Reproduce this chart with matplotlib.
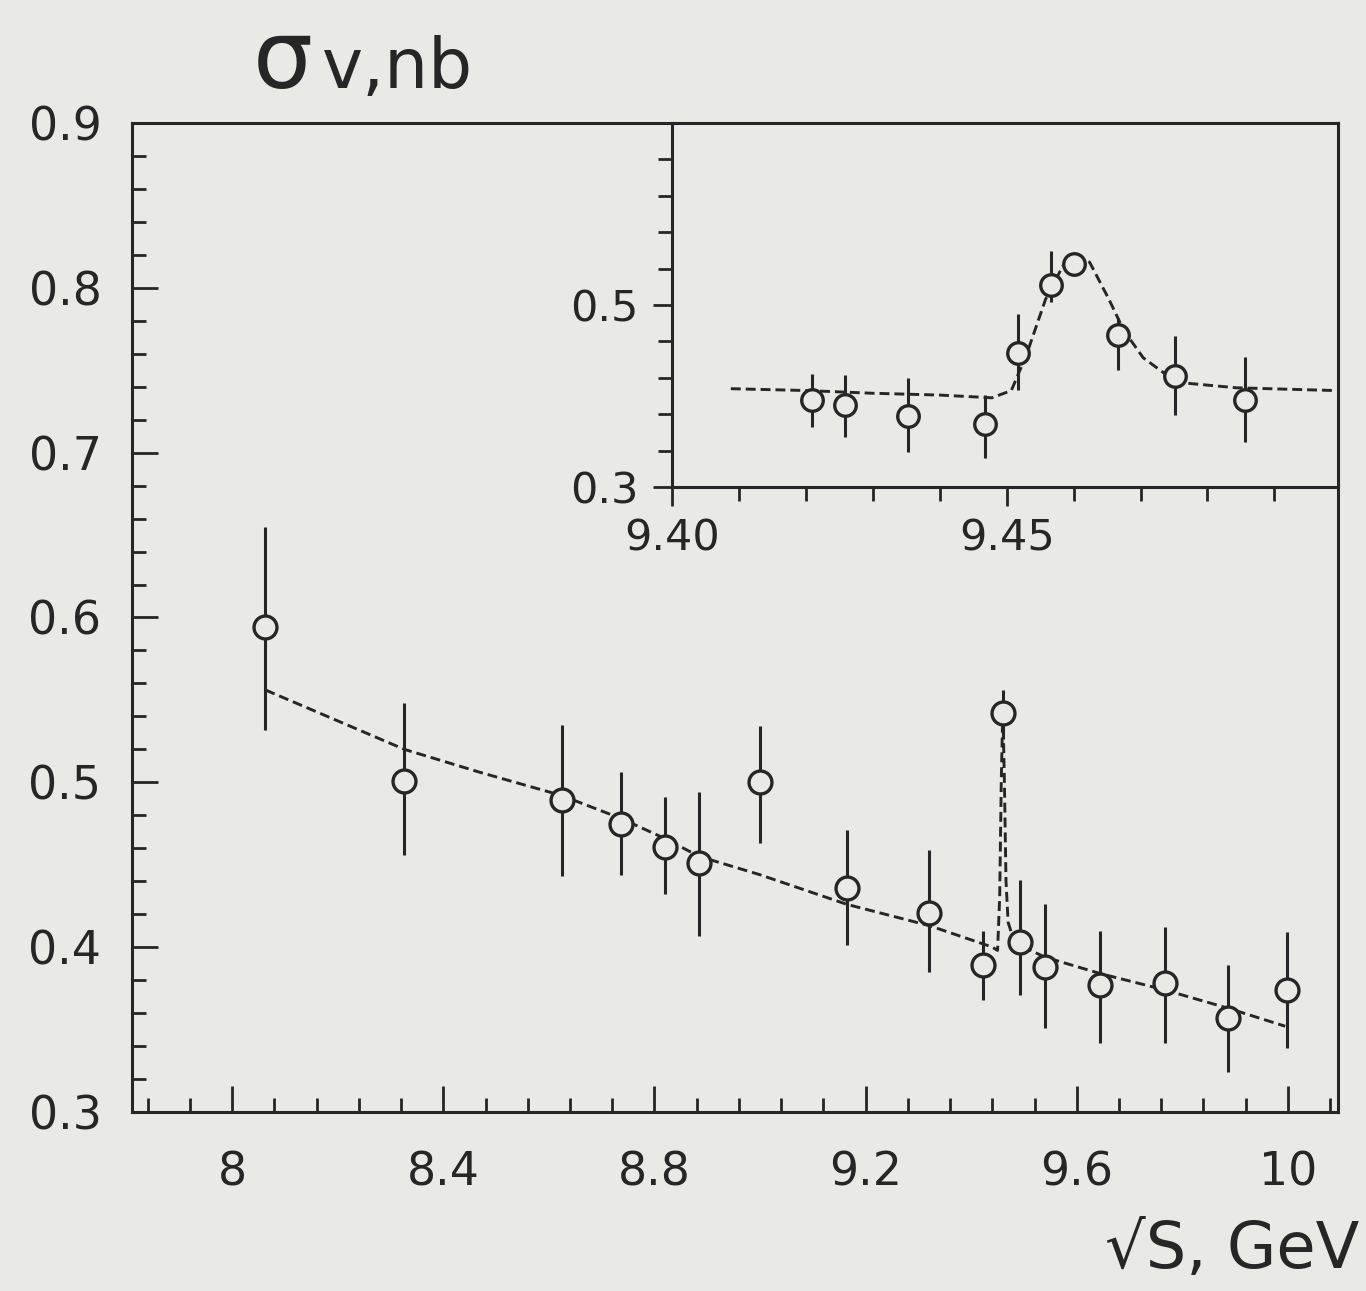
import numpy as np
import matplotlib.pyplot as plt

# main panel: sqrt(s), GeV  vs  sigma_v, nb
x_main = [8.063, 8.326, 8.624, 8.737, 8.819, 8.885, 8.999, 9.164, 9.321,
          9.422, 9.460, 9.492, 9.539, 9.644, 9.767, 9.886, 9.998]
y_main = [0.594, 0.501, 0.489, 0.475, 0.461, 0.451, 0.500, 0.436, 0.421,
          0.389, 0.542, 0.403, 0.388, 0.377, 0.378, 0.357, 0.374]
y_main_hi = [0.655, 0.548, 0.535, 0.506, 0.491, 0.494, 0.534, 0.471, 0.459,
             0.410, 0.556, 0.441, 0.426, 0.410, 0.412, 0.389, 0.409]
y_main_lo = [0.532, 0.456, 0.443, 0.444, 0.432, 0.407, 0.463, 0.401, 0.385,
             0.368, 0.526, 0.371, 0.351, 0.342, 0.342, 0.324, 0.339]

# fit curve
fit_x = [8.063, 8.326, 8.470, 8.624, 8.737, 8.819, 8.885, 8.999, 9.164, 9.321, 9.422,
         9.440, 9.450, 9.454, 9.457, 9.460, 9.463, 9.466, 9.470, 9.480, 9.500,
         9.539, 9.644, 9.767, 9.886, 9.995]
fit_y = [0.556, 0.520, 0.506, 0.492, 0.478, 0.466, 0.455, 0.444, 0.426, 0.413, 0.402,
         0.400, 0.398, 0.430, 0.500, 0.545, 0.500, 0.440, 0.415, 0.405, 0.400,
         0.394, 0.384, 0.374, 0.363, 0.352]

# inset: resonance region
x_ins = [9.4209, 9.4259, 9.4353, 9.4467, 9.4517, 9.4567, 9.4601, 9.4666, 9.4752, 9.4856]
y_ins = [0.396, 0.390, 0.378, 0.369, 0.447, 0.522, 0.545, 0.467, 0.422, 0.396]
y_ins_hi = [0.424, 0.423, 0.420, 0.401, 0.490, 0.559, 0.555, 0.486, 0.466, 0.443]
y_ins_lo = [0.366, 0.355, 0.338, 0.332, 0.407, 0.503, 0.536, 0.429, 0.379, 0.349]

ins_fit_x = [9.4088, 9.4200, 9.4300, 9.4400, 9.4478, 9.4507, 9.4530, 9.4558, 9.4584,
             9.4606, 9.4624, 9.4653, 9.4675, 9.4704, 9.4741, 9.4770, 9.4843, 9.4990]
ins_fit_y = [0.408, 0.406, 0.403, 0.401, 0.398, 0.406, 0.446, 0.506, 0.543,
             0.553, 0.547, 0.506, 0.472, 0.442, 0.422, 0.414, 0.409, 0.406]

paper = '#e9e9e6'
ink = '#262626'

plt.rcParams['font.family'] = 'DejaVu Sans'
fig = plt.figure(figsize=(13.66, 12.91), dpi=100, facecolor=paper)

ax = fig.add_axes([0.0966, 0.1387, 0.8829, 0.7660], facecolor=paper)
ax.set_xlim(7.81, 10.095)
ax.set_ylim(0.3, 0.9)

for s in ax.spines.values():
    s.set_linewidth(2.2)
    s.set_color(ink)

ax.set_xticks([8.0, 8.4, 8.8, 9.2, 9.6, 10.0])
ax.set_xticklabels(['8', '8.4', '8.8', '9.2', '9.6', '10'])
ax.set_xticks(np.arange(7.84, 10.09, 0.08), minor=True)
ax.set_yticks([0.3, 0.4, 0.5, 0.6, 0.7, 0.8, 0.9])
ax.set_yticks(np.arange(0.30, 0.901, 0.02), minor=True)
ax.tick_params(which='both', direction='in', color=ink, width=2.0,
               labelsize=33, labelcolor=ink, top=False, right=False)
ax.tick_params(which='major', length=19)
ax.tick_params(which='minor', length=10)
ax.tick_params(axis='x', pad=28)
ax.tick_params(axis='y', pad=22)

dash = (0, (3.4, 1.7))
ax.plot(fit_x, fit_y, color=ink, lw=2.1, linestyle=dash, zorder=2)
ax.vlines(x_main, y_main_lo, y_main_hi, color=ink, lw=2.2, zorder=3)
ax.plot(x_main, y_main, 'o', ms=16.5, mfc=paper, mec=ink, mew=2.4, zorder=4)

# inset
ai = fig.add_axes([0.4919, 0.6228, 0.4876, 0.2819], facecolor=paper)
ai.set_xlim(9.40, 9.4995)
ai.set_ylim(0.3, 0.70)
for s in ai.spines.values():
    s.set_linewidth(2.2)
    s.set_color(ink)
ai.set_xticks([9.40, 9.45])
ai.set_xticklabels(['9.40', '9.45'])
ai.set_xticks(np.arange(9.41, 9.50, 0.01), minor=True)
ai.set_yticks([0.3, 0.5])
ai.set_yticklabels(['0.3', '0.5'])
ai.set_yticks(np.arange(0.34, 0.70, 0.04), minor=True)
ai.tick_params(which='both', direction='out', color=ink, width=2.0,
               labelsize=31, labelcolor=ink, top=False, right=False)
ai.tick_params(which='major', length=14)
ai.tick_params(which='minor', length=10)
ai.tick_params(axis='y', pad=10)
ai.tick_params(axis='x', pad=8)

ai.plot(ins_fit_x, ins_fit_y, color=ink, lw=2.1, linestyle=dash, zorder=2)
ai.vlines(x_ins, y_ins_lo, y_ins_hi, color=ink, lw=2.2, zorder=3)
ai.plot(x_ins, y_ins, 'o', ms=15.5, mfc=paper, mec=ink, mew=2.4, zorder=4)

fig.text(0.185, 0.932, 'σ', fontsize=68, color=ink, ha='left', va='baseline')
fig.text(0.236, 0.932, 'v,nb', fontsize=50, color=ink, ha='left', va='baseline')
fig.text(0.995, 0.008, '√S, GeV', fontsize=46, color=ink, ha='right', va='bottom')

fig.savefig('out.png', dpi=100, facecolor=paper)
